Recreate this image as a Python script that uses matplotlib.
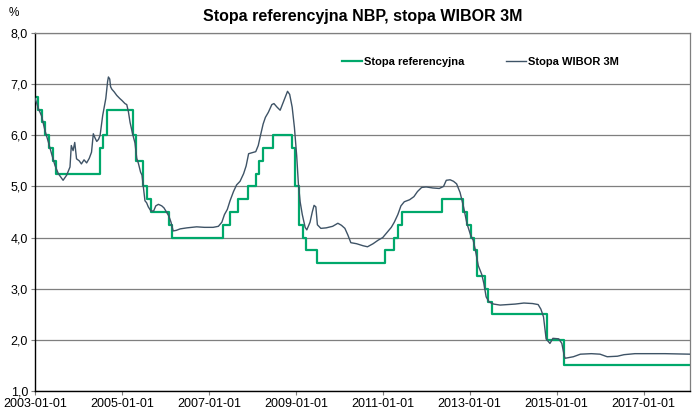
import matplotlib
matplotlib.use("Agg")
import matplotlib.pyplot as plt
import matplotlib.dates as mdates
import matplotlib.ticker as mticker
import pandas as pd

plt.rcParams['font.family'] = ['Liberation Sans', 'DejaVu Sans']

title = "Stopa referencyjna NBP, stopa WIBOR 3M"
label_nbp = "Stopa referencyjna"
label_wibor = "Stopa WIBOR 3M"
y_unit = "%"

# NBP reference rate: change dates and new values (step function)
nbp_dates = ["2003-01-01", "2003-01-30", "2003-02-27", "2003-03-27", "2003-04-25",
             "2003-05-29", "2003-06-26", "2004-06-30", "2004-07-29", "2004-08-26",
             "2005-03-31", "2005-04-28", "2005-06-30", "2005-07-28", "2005-08-31",
             "2006-01-31", "2006-03-01", "2007-04-26", "2007-06-28", "2007-08-30",
             "2007-11-29", "2008-01-31", "2008-02-28", "2008-03-27", "2008-06-26",
             "2008-11-27", "2008-12-24", "2009-01-28", "2009-02-26", "2009-03-26",
             "2009-06-25", "2011-01-20", "2011-04-06", "2011-05-12", "2011-06-09",
             "2012-05-10", "2012-11-08", "2012-12-06", "2013-01-10", "2013-02-07",
             "2013-03-07", "2013-05-09", "2013-06-06", "2013-07-04", "2014-10-09",
             "2015-03-05", "2018-01-26"]
nbp_values = [6.75, 6.50, 6.25, 6.00, 5.75,
              5.50, 5.25, 5.75, 6.00, 6.50,
              6.00, 5.50, 5.00, 4.75, 4.50,
              4.25, 4.00, 4.25, 4.50, 4.75,
              5.00, 5.25, 5.50, 5.75, 6.00,
              5.75, 5.00, 4.25, 4.00, 3.75,
              3.50, 3.75, 4.00, 4.25, 4.50,
              4.75, 4.50, 4.25, 4.00, 3.75,
              3.25, 3.00, 2.75, 2.50, 2.00,
              1.50, 1.50]

# WIBOR 3M
wibor_dates = ["2003-01-02", "2003-01-30", "2003-02-25", "2003-03-25", "2003-04-23",
               "2003-05-20", "2003-06-18", "2003-07-16", "2003-08-07", "2003-08-25",
               "2003-09-24", "2003-10-22", "2003-11-02", "2003-11-17", "2003-12-01",
               "2003-12-16", "2004-01-08", "2004-01-26", "2004-02-17", "2004-03-10",
               "2004-04-01", "2004-04-20", "2004-05-05", "2004-05-19", "2004-06-03",
               "2004-06-18", "2004-07-01", "2004-07-23", "2004-08-18", "2004-09-02",
               "2004-09-09", "2004-09-20", "2004-09-27", "2004-10-08", "2004-10-27",
               "2004-11-18", "2004-12-13", "2005-01-01", "2005-01-26", "2005-02-10",
               "2005-02-24", "2005-03-10", "2005-04-01", "2005-04-20", "2005-05-05",
               "2005-05-19", "2005-06-06", "2005-06-18", "2005-07-01", "2005-07-13",
               "2005-07-27", "2005-08-10", "2005-09-01", "2005-09-24", "2005-10-12",
               "2005-11-03", "2005-12-01", "2005-12-20", "2006-01-10", "2006-01-30",
               "2006-02-17", "2006-03-07", "2006-04-01", "2006-05-05", "2006-07-01",
               "2006-09-20", "2006-11-25", "2007-02-06", "2007-03-22", "2007-04-20",
               "2007-05-12", "2007-06-05", "2007-06-28", "2007-07-27", "2007-08-22",
               "2007-09-20", "2007-10-20", "2007-11-10", "2007-12-01", "2008-01-01",
               "2008-01-30", "2008-02-20", "2008-03-10", "2008-04-01", "2008-04-20",
               "2008-05-15", "2008-06-13", "2008-07-01", "2008-07-27", "2008-08-22",
               "2008-09-13", "2008-10-05", "2008-10-23", "2008-11-10", "2008-12-01",
               "2008-12-20", "2009-01-08", "2009-01-22", "2009-02-06", "2009-02-24",
               "2009-03-20", "2009-04-03", "2009-04-30", "2009-05-19", "2009-06-03",
               "2009-06-18", "2009-07-01", "2009-07-30", "2009-09-13", "2009-11-06",
               "2009-12-20", "2010-01-19", "2010-02-17", "2010-03-14", "2010-04-08",
               "2010-05-26", "2010-07-20", "2010-08-26", "2010-10-12", "2010-11-24",
               "2011-01-01", "2011-02-06", "2011-03-14", "2011-04-08", "2011-05-08",
               "2011-06-03", "2011-07-01", "2011-08-15", "2011-09-20", "2011-10-20",
               "2011-11-24", "2012-01-01", "2012-02-25", "2012-04-20", "2012-05-26",
               "2012-06-18", "2012-07-20", "2012-08-18", "2012-09-13", "2012-10-12",
               "2012-11-10", "2012-12-08", "2013-01-08", "2013-01-30", "2013-02-17",
               "2013-03-14", "2013-04-12", "2013-04-30", "2013-05-19", "2013-06-13",
               "2013-07-20", "2013-09-13", "2013-11-10", "2014-01-19", "2014-04-01",
               "2014-06-13", "2014-07-30", "2014-08-22", "2014-09-13", "2014-10-05",
               "2014-11-06", "2014-12-01", "2015-01-19", "2015-02-14", "2015-03-07",
               "2015-03-14", "2015-05-22", "2015-07-20", "2015-10-20", "2016-01-01",
               "2016-03-01", "2016-05-26", "2016-07-20", "2016-10-20", "2017-07-01",
               "2018-01-26"]
wibor_values = [6.72, 6.52, 6.38, 6.10, 5.87,
                5.64, 5.41, 5.25, 5.18, 5.12,
                5.22, 5.38, 5.80, 5.70, 5.86,
                5.54, 5.50, 5.44, 5.52, 5.46,
                5.55, 5.67, 6.03, 5.95, 5.88,
                5.92, 6.00, 6.39, 6.72, 7.05,
                7.14, 7.10, 6.95, 6.90, 6.85,
                6.78, 6.72, 6.68, 6.62, 6.60,
                6.46, 6.25, 6.02, 5.85, 5.55,
                5.45, 5.28, 5.22, 4.95, 4.72,
                4.68, 4.60, 4.52, 4.52, 4.62,
                4.65, 4.62, 4.58, 4.50, 4.42,
                4.30, 4.13, 4.14, 4.17, 4.19,
                4.21, 4.20, 4.20, 4.22, 4.30,
                4.45, 4.55, 4.72, 4.90, 5.03,
                5.10, 5.25, 5.40, 5.64, 5.66,
                5.68, 5.80, 6.00, 6.22, 6.35,
                6.45, 6.60, 6.62, 6.55, 6.49,
                6.62, 6.75, 6.86, 6.80, 6.55,
                6.15, 5.60, 5.06, 4.70, 4.45,
                4.20, 4.15, 4.30, 4.50, 4.63,
                4.60, 4.25, 4.18, 4.19, 4.22,
                4.28, 4.24, 4.18, 4.05, 3.90,
                3.88, 3.84, 3.82, 3.88, 3.95,
                4.00, 4.10, 4.20, 4.30, 4.45,
                4.62, 4.70, 4.74, 4.80, 4.90,
                4.98, 4.99, 4.97, 4.96, 5.00,
                5.12, 5.13, 5.10, 5.05, 4.88,
                4.60, 4.28, 4.05, 3.95, 3.76,
                3.45, 3.28, 3.10, 2.84, 2.74,
                2.70, 2.68, 2.69, 2.70, 2.72,
                2.71, 2.69, 2.60, 2.45, 2.02,
                1.93, 2.03, 2.02, 1.93, 1.68,
                1.64, 1.67, 1.72, 1.73, 1.72,
                1.67, 1.68, 1.71, 1.73, 1.73,
                1.72]

x_ticks = ["2003-01-01", "2005-01-01", "2007-01-01", "2009-01-01",
           "2011-01-01", "2013-01-01", "2015-01-01", "2017-01-01"]
x_range = ["2003-01-01", "2018-01-26"]
y_ticks = [1, 2, 3, 4, 5, 6, 7, 8]

green = "#00A86B"
slate = "#3E5366"

fig = plt.figure(figsize=(6.95, 4.15), dpi=100)
ax = fig.add_axes([35 / 695, 1 - 391 / 415, 655 / 695, 358 / 415])

nd = pd.to_datetime(nbp_dates)
wd = pd.to_datetime(wibor_dates)

ax.grid(axis='y', color='#7f7f7f', linewidth=0.9, zorder=0)
ax.step(nd, nbp_values, where='post', color=green, linewidth=1.6, label=label_nbp, zorder=2)
ax.plot(wd, wibor_values, color=slate, linewidth=1.0, label=label_wibor, zorder=3)

ax.set_xlim(pd.Timestamp(x_range[0]), pd.Timestamp(x_range[1]))
ax.set_ylim(1, 8)
ax.set_yticks(y_ticks)
ax.yaxis.set_major_formatter(mticker.FuncFormatter(lambda v, p: f"{v:.1f}".replace('.', ',')))
ax.set_xticks(pd.to_datetime(x_ticks))
ax.set_xticklabels(x_ticks)

for s in ['left', 'bottom']:
    ax.spines[s].set_color('black')
    ax.spines[s].set_linewidth(1.0)
for s in ['top', 'right']:
    ax.spines[s].set_color('#7f7f7f')
    ax.spines[s].set_linewidth(0.9)

ax.tick_params(axis='both', labelsize=9, length=3, width=0.8, colors='#7f7f7f', labelcolor='black', pad=2)

ax.set_title(title, fontsize=11.5, fontweight='bold', pad=9)
fig.text(14 / 695, 1 - 13 / 415, y_unit, fontsize=8.5, ha='center', va='center')

leg = ax.legend(loc='center', bbox_to_anchor=(0.68, 0.918), ncol=2, frameon=False,
                prop={'weight': 'bold', 'size': 8}, handlelength=1.8, handletextpad=0.15,
                columnspacing=3.8)

fig.savefig("out.png", dpi=100)
